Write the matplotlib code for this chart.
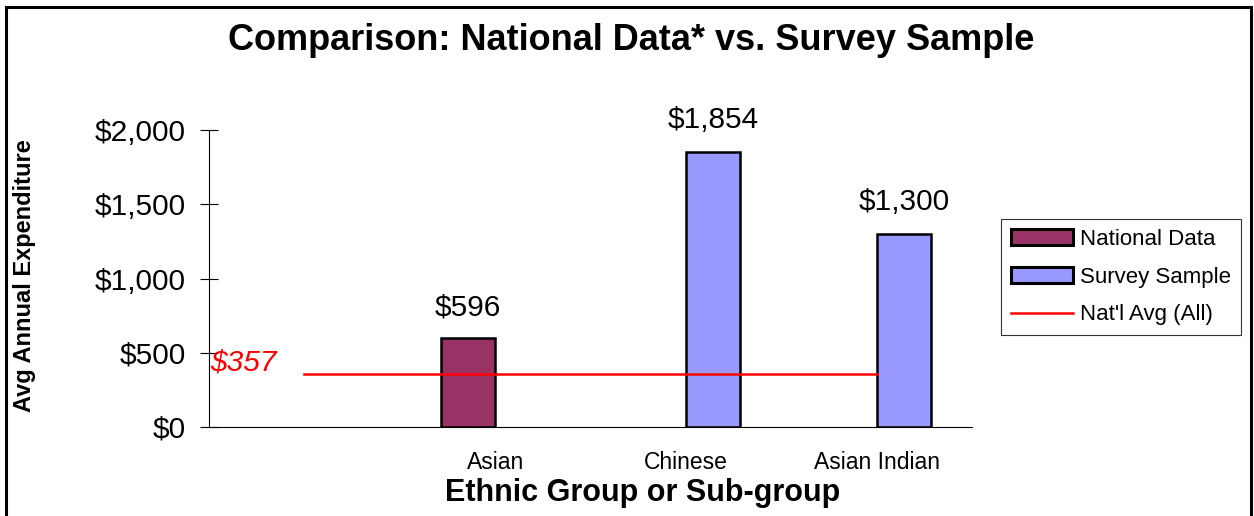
import numpy as np
import matplotlib.pyplot as plt
from matplotlib.patches import Rectangle, Patch
from matplotlib.lines import Line2D

plt.rcParams['font.family'] = ['Liberation Sans', 'DejaVu Sans']

# data
groups = ['', 'Asian', 'Chinese', 'Asian Indian']
national = [np.nan, 596, np.nan, np.nan]
survey = [np.nan, np.nan, 1854, 1300]
natl_avg = [357, 357, 357, 357]
y_ticks = [0, 500, 1000, 1500, 2000]
y_tick_labels = ['$0', '$500', '$1,000', '$1,500', '$2,000']

W, H = 1254, 516
fig = plt.figure(figsize=(W / 100, H / 100), dpi=100)
ax = fig.add_axes([209 / W, 89 / H, 763 / W, 297 / H])

x = np.arange(len(groups))
w = 0.286
c_nat = '#993366'
c_sur = '#9999FF'

ax.bar(x - w / 2, national, w, color=c_nat, edgecolor='black', linewidth=1.8, zorder=2)
ax.bar(x + w / 2, survey, w, color=c_sur, edgecolor='black', linewidth=1.8, zorder=2)
ax.plot(x, natl_avg, color='red', linewidth=1.8, zorder=3)

# value labels above the bars
for xi, v in zip(x - w / 2, national):
    if not np.isnan(v):
        ax.annotate(f'${v:,.0f}', (xi, v), xytext=(0, 22), textcoords='offset points',
                    ha='center', va='center', fontsize=21.5)
for xi, v in zip(x + w / 2, survey):
    if not np.isnan(v):
        ax.annotate(f'${v:,.0f}', (xi, v), xytext=(0, 23), textcoords='offset points',
                    ha='center', va='center', fontsize=21.5)
ax.annotate(f'${natl_avg[0]}', (x[0], natl_avg[0]), xytext=(-20, 8), textcoords='offset points',
            ha='right', va='center', fontsize=21.5, color='red', style='italic')

ax.set_xlim(-0.5, len(groups) - 0.5)
ax.set_ylim(0, 2000)
ax.set_yticks(y_ticks)
ax.set_yticklabels(y_tick_labels, fontsize=21.5)
ax.set_xticks(x)
ax.set_xticklabels(groups, fontsize=16.5)
ax.tick_params(axis='y', direction='inout', length=13, width=0.8, pad=10)
ax.tick_params(axis='x', length=0, pad=17)
for s in ['top', 'right']:
    ax.spines[s].set_visible(False)
for s in ['left', 'bottom']:
    ax.spines[s].set_linewidth(0.8)

fig.text(631 / W, 1 - 40 / H, 'Comparison: National Data* vs. Survey Sample',
         ha='center', va='center', fontsize=26, fontweight='bold')
fig.text(643 / W, 1 - 493 / H, 'Ethnic Group or Sub-group',
         ha='center', va='center', fontsize=22, fontweight='bold')
fig.text(25 / W, 1 - 276 / H, 'Avg Annual Expenditure', rotation=90,
         ha='center', va='center', fontsize=17, fontweight='bold')

handles = [Patch(facecolor=c_nat, edgecolor='black', linewidth=2.2),
           Patch(facecolor=c_sur, edgecolor='black', linewidth=2.2),
           Line2D([0], [0], color='red', linewidth=1.8)]
leg = fig.legend(handles, ['National Data', 'Survey Sample', "Nat'l Avg (All)"],
                 loc='upper left', bbox_to_anchor=(1001 / W, 1 - 219 / H), fontsize=16,
                 frameon=True, fancybox=False, handlelength=2.8, handleheight=0.7,
                 handletextpad=0.3, labelspacing=0.75, borderpad=0.45, borderaxespad=0)
leg.get_frame().set_edgecolor('black')
leg.get_frame().set_linewidth(0.8)

# outer chart border
fig.patches.append(Rectangle((6 / W, -0.05), 1245 / W, 1.05 - 7 / H, transform=fig.transFigure,
                             fill=False, edgecolor='black', linewidth=2.2))

fig.savefig('out.png', dpi=100)
